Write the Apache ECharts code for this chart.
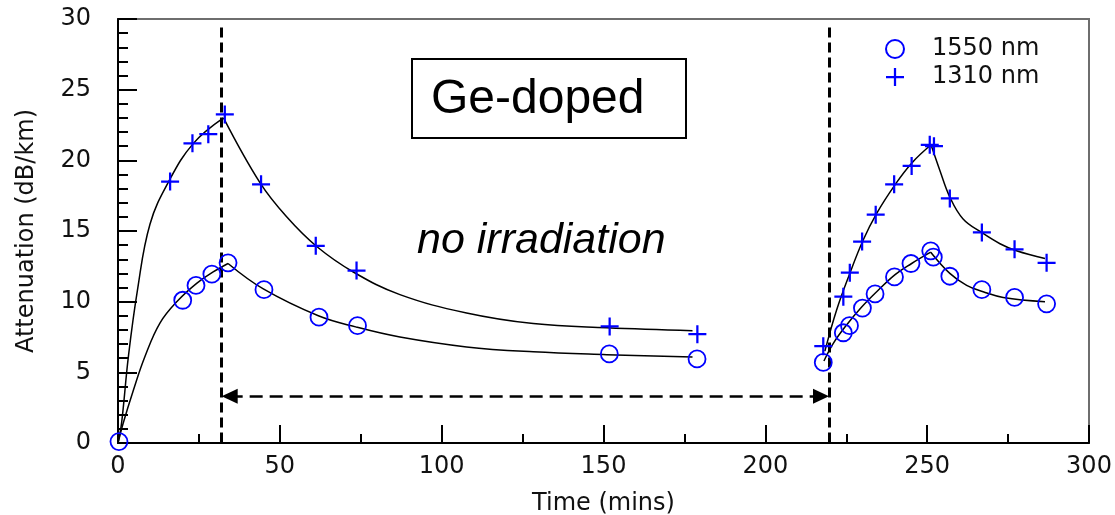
<!DOCTYPE html>
<html>
<head>
<meta charset="utf-8">
<title>Ge-doped fibre attenuation</title>
<script src="https://cdn.jsdelivr.net/npm/echarts@6/dist/echarts.min.js"></script>
<style>
  html, body { margin: 0; padding: 0; background: #ffffff; }
  #chart { width: 1115px; height: 515px; }
</style>
</head>
<body>
<div id="chart"></div>
<script>
// ---- measured attenuation (dB/km) versus time (mins) ----
const seriesNames = ['1550 nm', '1310 nm'];

const points1550 = [
  [0.3, 0.1], [20.0, 10.1], [24.1, 11.15], [29.0, 11.95], [34.0, 12.75],
  [45.1, 10.85], [62.1, 8.9], [74.0, 8.3], [151.8, 6.3], [178.9, 5.95],
  [217.9, 5.7], [224.1, 7.8], [226.0, 8.3], [230.0, 9.55], [233.9, 10.55],
  [239.9, 11.75], [245.0, 12.7], [251.1, 13.6], [251.9, 13.15], [257.0, 11.8],
  [266.9, 10.85], [277.0, 10.3], [286.9, 9.85]
];

const points1310 = [
  [16.1, 18.5], [23.0, 21.2], [27.9, 21.85], [33.0, 23.25], [44.2, 18.3],
  [61.1, 13.95], [73.7, 12.2], [151.9, 8.25], [179.0, 7.7],
  [217.9, 6.85], [224.1, 10.35], [226.1, 12.05], [229.9, 14.25], [234.1, 16.15],
  [239.8, 18.3], [245.2, 19.6], [250.8, 21.1], [252.1, 21.0], [257.0, 17.3],
  [266.9, 14.9], [277.0, 13.7], [286.9, 12.75]
];

// ---- fitted growth / recovery curves ----
const fit1310Rise1 = [[0, 0], [1.1, 1.4], [3.2, 6.1], [6.0, 10.8], [9.9, 15.5], [15.9, 18.6], [23.3, 21.2], [32.6, 23.0]];
const fit1310Decay1 = [[32.6, 23.0], [43.9, 18.4], [52.1, 16.0], [61.4, 13.9], [72.7, 12.1], [87.1, 10.5], [107.7, 9.2], [128.3, 8.45], [151.0, 8.15], [177.5, 7.95]];
const fit1550Rise1 = [[0, 0], [1.6, 1.4], [4.7, 3.7], [8.3, 6.1], [13.0, 8.5], [18.6, 10.1], [24.3, 11.3], [29.4, 12.1], [34.0, 12.7]];
const fit1550Decay1 = [[34.0, 12.7], [44.9, 10.9], [61.9, 9.0], [73.7, 8.2], [87.1, 7.5], [107.7, 6.8], [128.3, 6.45], [151.0, 6.25], [177.5, 6.08]];
const fit1310Rise2 = [[218.4, 6.5], [222.0, 9.4], [226.1, 12.0], [230.2, 14.35], [234.4, 16.25], [240.0, 18.25], [245.2, 19.8], [251.2, 21.1]];
const fit1310Decay2 = [[251.2, 21.1], [253.9, 19.3], [257.0, 17.4], [261.1, 15.85], [266.8, 14.9], [272.5, 14.1], [277.6, 13.6], [286.4, 13.05]];
const fit1550Rise2 = [[218.1, 5.8], [221.0, 7.05], [225.1, 8.35], [229.7, 9.6], [234.4, 10.7], [240.0, 11.9], [245.2, 12.7], [251.1, 13.5]];
const fit1550Decay2 = [[251.1, 13.5], [257.0, 12.0], [262.2, 11.15], [267.3, 10.7], [273.5, 10.3], [286.4, 10.0]];

// ---- irradiation-off interval markers ----
const irradiationStop = 31.8;    // mins
const irradiationRestart = 219.7; // mins
const markerTop = 29.4;           // dB/km
const arrowLevel = 3.3;           // dB/km
const arrowFrom = 34.5;
const arrowTo = 217.2;

// ---- axes ----
const xRange = { min: 0, max: 300, step: 50 };
const yRange = { min: 0, max: 30, step: 5 };

const AXIS_FONT = 'DejaVu Sans';
const TEXT_COLOR = '#111111';
const BLUE = '#0000ff';
const CROSS = 'path://M0,7H7V0H9V7H16V9H9V16H7V9H0Z';

const fitSegments = [fit1310Rise1, fit1310Decay1, fit1550Rise1, fit1550Decay1,
                     fit1310Rise2, fit1310Decay2, fit1550Rise2, fit1550Decay2];

const fitSeries = fitSegments.map(function (seg, i) {
  const s = {
    type: 'line',
    data: seg,
    smooth: 0.4,
    symbol: 'none',
    showSymbol: false,
    silent: true,
    z: 3,
    lineStyle: { color: '#000000', width: 1.5 }
  };
  if (i === 0) {
    s.markLine = {
      silent: true,
      animation: false,
      symbol: ['none', 'none'],
      label: { show: false },
      data: [
        [{ coord: [irradiationStop, markerTop], lineStyle: { color: '#000', width: 3, type: [10, 5] } },
         { coord: [irradiationStop, 0] }],
        [{ coord: [irradiationRestart, markerTop], lineStyle: { color: '#000', width: 3, type: [10, 5] } },
         { coord: [irradiationRestart, 0] }],
        [{ coord: [arrowFrom, arrowLevel], symbol: 'triangle', symbolSize: [15, 16],
           lineStyle: { color: '#000', width: 2.5, type: [13, 7] } },
         { coord: [arrowTo, arrowLevel], symbol: 'triangle', symbolSize: [15, 16] }]
      ]
    };
  }
  return s;
});

const chart = echarts.init(document.getElementById('chart'), null, { renderer: 'canvas' });

chart.setOption({
  animation: false,
  backgroundColor: '#ffffff',
  grid: {
    left: 118, right: 26, top: 19, bottom: 72,
    outerBoundsMode: 'none',
    containLabel: false,
    show: true, borderColor: '#6e6e6e', borderWidth: 2, backgroundColor: 'transparent'
  },
  legend: {
    data: seriesNames,
    orient: 'vertical',
    left: 885, top: 37,
    itemWidth: 64, itemHeight: 18, itemGap: 4,
    padding: 0,
    selectedMode: false,
    textStyle: { fontSize: 24, fontFamily: AXIS_FONT, color: TEXT_COLOR }
  },
  xAxis: {
    type: 'value',
    min: xRange.min, max: xRange.max, interval: xRange.step,
    name: 'Time (mins)',
    nameLocation: 'middle', nameGap: 49,
    nameTextStyle: { fontSize: 24, fontFamily: AXIS_FONT, color: TEXT_COLOR },
    axisLine: { show: true, onZero: false, lineStyle: { color: '#000', width: 2 } },
    axisTick: { show: true, inside: true, length: 18, lineStyle: { color: '#000', width: 2 } },
    minorTick: { show: true, splitNumber: 2, length: 9, lineStyle: { color: '#000', width: 2 } },
    splitLine: { show: false },
    axisLabel: { fontSize: 24, fontFamily: AXIS_FONT, color: TEXT_COLOR, margin: 12 }
  },
  yAxis: {
    type: 'value',
    min: yRange.min, max: yRange.max, interval: yRange.step,
    name: 'Attenuation (dB/km)',
    nameLocation: 'middle', nameGap: 79, nameRotate: 90,
    nameTextStyle: { fontSize: 24, fontFamily: AXIS_FONT, color: TEXT_COLOR },
    axisLine: { show: true, onZero: false, lineStyle: { color: '#000', width: 2 } },
    axisTick: { show: true, inside: true, length: 19, lineStyle: { color: '#000', width: 2 } },
    minorTick: { show: true, splitNumber: 5, length: 10, lineStyle: { color: '#000', width: 2 } },
    splitLine: { show: false },
    axisLabel: { fontSize: 24, fontFamily: AXIS_FONT, color: TEXT_COLOR, margin: 27 }
  },
  graphic: [
    { type: 'rect', shape: { x: 412, y: 59, width: 274, height: 79 },
      style: { fill: 'none', stroke: '#000', lineWidth: 2 }, z: 10 },
    { type: 'text', x: 431, y: 100,
      style: { text: 'Ge-doped', font: '48px "Liberation Sans", Arial, sans-serif', fill: '#000', verticalAlign: 'middle' }, z: 10 },
    { type: 'text', x: 417, y: 241,
      style: { text: 'no irradiation', font: 'italic 43px "Liberation Sans", Arial, sans-serif', fill: '#000', verticalAlign: 'middle' }, z: 10 }
  ],
  series: fitSeries.concat([
    {
      name: seriesNames[0],
      type: 'scatter',
      data: points1550,
      symbol: 'circle',
      symbolSize: 17,
      z: 5,
      itemStyle: { color: 'rgba(0,0,0,0)', borderColor: BLUE, borderWidth: 1.8, opacity: 1 }
    },
    {
      name: seriesNames[1],
      type: 'scatter',
      data: points1310,
      symbol: CROSS,
      symbolSize: 18,
      symbolKeepAspect: true,
      z: 5,
      itemStyle: { color: BLUE, opacity: 1 }
    }
  ])
});
</script>
</body>
</html>
